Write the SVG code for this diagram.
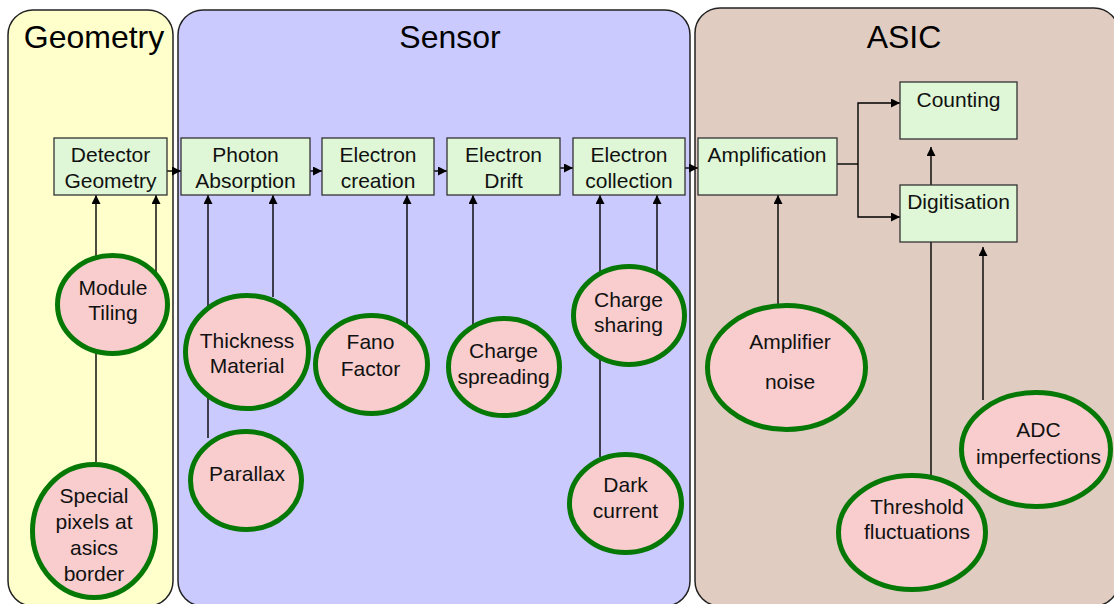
<svg xmlns="http://www.w3.org/2000/svg" width="1114" height="604" viewBox="0 0 1114 604">
<defs>
<marker id="ah" viewBox="0 0 10 10" refX="10" refY="5" markerWidth="9" markerHeight="9" markerUnits="userSpaceOnUse" orient="auto">
<path d="M0,0 L10,5 L0,10 Z" fill="#000"/>
</marker>
<style>
.panel{stroke:#222;stroke-width:1.5}
.title{font-family:"Liberation Sans",Arial,sans-serif;font-size:32px;fill:#000;text-anchor:middle}
.box{fill:#DFF7D7;stroke:#333;stroke-width:1.3}
.t{font-family:"Liberation Sans",Arial,sans-serif;font-size:21px;fill:#111;text-anchor:middle}
.ell{fill:#F9CDCD;stroke:#067806;stroke-width:5}
.c{fill:none;stroke:#000;stroke-width:1.4}
.ca{fill:none;stroke:#000;stroke-width:1.4;marker-end:url(#ah)}
</style>
</defs>
<rect width="1114" height="604" fill="#fff"/>
<g id="panel-geometry">
<rect class="panel" x="8" y="10" width="165" height="596" rx="25" fill="#FFFFCC"/>
<text class="title" x="94" y="48">Geometry</text>
</g>
<g id="panel-sensor">
<rect class="panel" x="178" y="10" width="512" height="596" rx="25" fill="#CACAFE"/>
<text class="title" x="450" y="48">Sensor</text>
</g>
<g id="panel-asic">
<rect class="panel" x="695" y="8" width="424" height="598" rx="25" fill="#E0CCC1"/>
<text class="title" x="904" y="48">ASIC</text>
</g>
<g id="connectors">
<line class="ca" x1="167" y1="171" x2="181" y2="171"/>
<line class="ca" x1="310" y1="171" x2="322" y2="171"/>
<line class="ca" x1="434" y1="171" x2="447" y2="171"/>
<line class="ca" x1="560" y1="168" x2="573" y2="168"/>
<line class="ca" x1="685" y1="168" x2="698" y2="168"/>
<polyline class="c" points="837,164 858,164"/>
<polyline class="ca" points="858,164 858,103 900,103"/>
<polyline class="ca" points="858,164 858,217 900,217"/>
<line class="ca" x1="931" y1="185" x2="931" y2="147"/>
<line class="ca" x1="96" y1="462" x2="96" y2="195"/>
<line class="ca" x1="156" y1="272" x2="156" y2="195"/>
<line class="ca" x1="208" y1="438" x2="208" y2="195"/>
<line class="ca" x1="273" y1="297" x2="273" y2="195"/>
<line class="ca" x1="407" y1="327" x2="407" y2="195"/>
<line class="ca" x1="473" y1="327" x2="473" y2="195"/>
<line class="ca" x1="600" y1="457" x2="600" y2="195"/>
<line class="ca" x1="657" y1="275" x2="657" y2="195"/>
<line class="ca" x1="778" y1="305" x2="778" y2="195"/>
<line class="c" x1="931" y1="242" x2="931" y2="475"/>
<line class="ca" x1="983" y1="400" x2="983" y2="247"/>
</g>
<g id="box-detector-geometry">
<rect class="box" x="54" y="138" width="113" height="57"/>
<text class="t" x="110.5" y="162">Detector</text>
<text class="t" x="110.5" y="188">Geometry</text>
</g>
<g id="box-photon-absorption">
<rect class="box" x="181" y="138" width="129" height="57"/>
<text class="t" x="245.5" y="162">Photon</text>
<text class="t" x="245.5" y="188">Absorption</text>
</g>
<g id="box-electron-creation">
<rect class="box" x="322" y="138" width="112" height="57"/>
<text class="t" x="378" y="162">Electron</text>
<text class="t" x="378" y="188">creation</text>
</g>
<g id="box-electron-drift">
<rect class="box" x="447" y="138" width="113" height="57"/>
<text class="t" x="503.5" y="162">Electron</text>
<text class="t" x="503.5" y="188">Drift</text>
</g>
<g id="box-electron-collection">
<rect class="box" x="573" y="138" width="112" height="57"/>
<text class="t" x="629" y="162">Electron</text>
<text class="t" x="629" y="188">collection</text>
</g>
<g id="box-amplification">
<rect class="box" x="698" y="138" width="139" height="57"/>
<text class="t" x="767" y="162">Amplification</text>
</g>
<g id="box-counting">
<rect class="box" x="900" y="82" width="117" height="57"/>
<text class="t" x="958.5" y="107">Counting</text>
</g>
<g id="box-digitisation">
<rect class="box" x="900" y="185" width="117" height="57"/>
<text class="t" x="958.5" y="209">Digitisation</text>
</g>
<g id="ell-module-tiling">
<ellipse class="ell" cx="112.5" cy="304.5" rx="55" ry="49"/>
<text class="t" x="113" y="295">Module</text>
<text class="t" x="113" y="320">Tiling</text>
</g>
<g id="ell-special-pixels">
<ellipse class="ell" cx="94" cy="531" rx="61.5" ry="66.5"/>
<text class="t" x="94" y="503">Special</text>
<text class="t" x="94" y="529">pixels at</text>
<text class="t" x="94" y="555">asics</text>
<text class="t" x="94" y="581">border</text>
</g>
<g id="ell-thickness-material">
<ellipse class="ell" cx="247" cy="352" rx="61.5" ry="56.5"/>
<text class="t" x="247" y="348">Thickness</text>
<text class="t" x="247" y="373">Material</text>
</g>
<g id="ell-parallax">
<ellipse class="ell" cx="246" cy="480.5" rx="55.5" ry="49"/>
<text class="t" x="247" y="481">Parallax</text>
</g>
<g id="ell-fano-factor">
<ellipse class="ell" cx="371.5" cy="364.5" rx="56" ry="49"/>
<text class="t" x="370.5" y="349">Fano</text>
<text class="t" x="370.5" y="376">Factor</text>
</g>
<g id="ell-charge-spreading">
<ellipse class="ell" cx="504" cy="367" rx="55.5" ry="48.5"/>
<text class="t" x="503.5" y="358">Charge</text>
<text class="t" x="503.5" y="384">spreading</text>
</g>
<g id="ell-charge-sharing">
<ellipse class="ell" cx="629" cy="315.5" rx="55.5" ry="49"/>
<text class="t" x="628.5" y="307">Charge</text>
<text class="t" x="628.5" y="332">sharing</text>
</g>
<g id="ell-dark-current">
<ellipse class="ell" cx="625.5" cy="503.5" rx="56" ry="49"/>
<text class="t" x="625.5" y="492">Dark</text>
<text class="t" x="625.5" y="518">current</text>
</g>
<g id="ell-amplifier-noise">
<ellipse class="ell" cx="786.5" cy="367.5" rx="79" ry="62"/>
<text class="t" x="790" y="349">Amplifier</text>
<text class="t" x="790" y="389">noise</text>
</g>
<g id="ell-threshold-fluctuations">
<ellipse class="ell" cx="912" cy="532.5" rx="73.5" ry="57"/>
<text class="t" x="917" y="514">Threshold</text>
<text class="t" x="917" y="539">fluctuations</text>
</g>
<g id="ell-adc-imperfections">
<ellipse class="ell" cx="1036" cy="449.5" rx="74.5" ry="57"/>
<text class="t" x="1038.5" y="437">ADC</text>
<text class="t" x="1038.5" y="464">imperfections</text>
</g>
</svg>
